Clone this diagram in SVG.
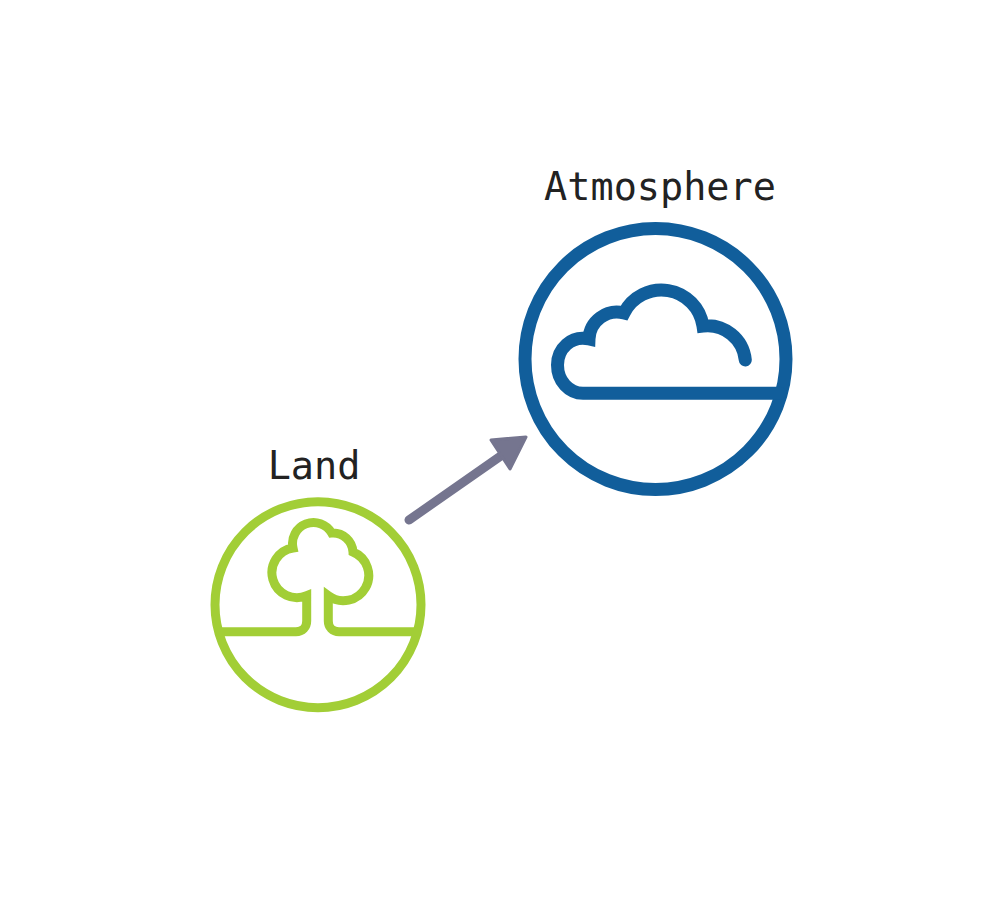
<svg xmlns="http://www.w3.org/2000/svg" width="1000" height="900" viewBox="0 0 1000 900">
<style>
.bg{fill:#fff}
.lbl{font-family:"DejaVu Sans Mono","Liberation Mono",monospace;font-size:38.5px;fill:#222;text-anchor:middle}
.atm{fill:none;stroke:#115e9b;stroke-width:13;stroke-linecap:round;stroke-linejoin:miter}
.lnd{fill:none;stroke:#a2ce36;stroke-width:9;stroke-linecap:butt;stroke-linejoin:miter}
.arr{fill:none;stroke:#75758f;stroke-width:9;stroke-linecap:round}
.head{fill:#75758f;stroke:#75758f;stroke-width:3;stroke-linejoin:round}
</style>
<rect class="bg" width="1000" height="900"/>
<g id="connectors">
<path class="arr" d="M409 520L505 453"/>
<path class="head" d="M526 437L491 440L510 469Z"/>
</g>
<g id="atmosphere">
<circle class="atm" cx="655.5" cy="359" r="130.500"/>
<path class="atm" d="M745.300 360A38 38 0 0 0 703 326A42 42 0 0 0 624 313A28 28 0 0 0 589 339C571 335 557.500 349 557.500 365C557.500 381 569 393.300 583 393.300H780"/>
<text class="lbl" x="660" y="200">Atmosphere</text>
</g>
<g id="land">
<circle class="lnd" cx="318" cy="604.700" r="103"/>
<path class="lnd" d="M220 631.700H296C302.500 631.700 306.700 627 306.700 621V595.700A25 25 0 1 1 293 548A21 21 0 0 1 331.700 533A20 20 0 0 1 353 552A25.300 25.300 0 1 1 328.300 595.700V621C328.300 627 332.500 631.700 339 631.700H416"/>
<text class="lbl" x="314" y="479">Land</text>
</g>
</svg>
